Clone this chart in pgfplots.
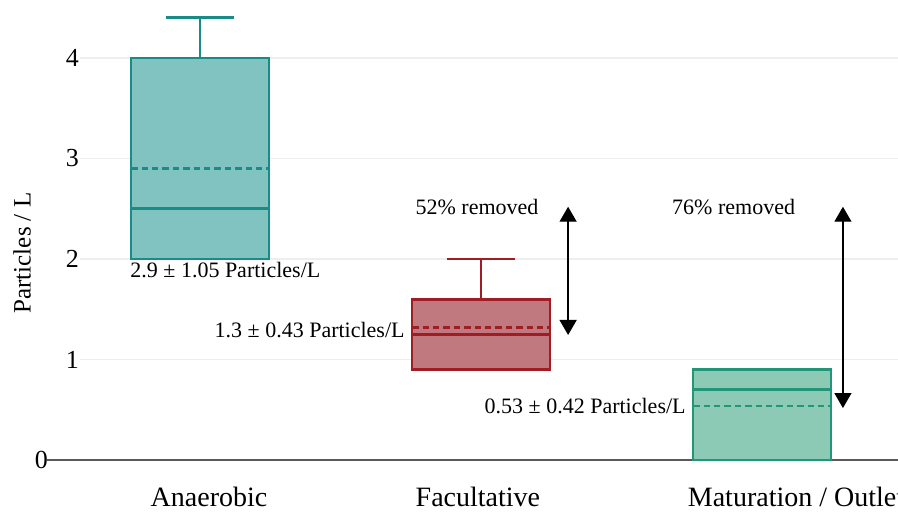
\documentclass[border=0pt]{standalone}
\usepackage{pgfplots}
\pgfplotsset{compat=1.18}
\usepgfplotslibrary{statistics}
\usetikzlibrary{arrows.meta}
\usepackage{fontspec}
\setmainfont{Liberation Serif}
\definecolor{anafill}{HTML}{81C3C0}
\definecolor{anadraw}{HTML}{198C87}
\definecolor{facfill}{HTML}{C07A7F}
\definecolor{facdraw}{HTML}{A01E23}
\definecolor{matfill}{HTML}{8CCAB6}
\definecolor{matdraw}{HTML}{239678}
\definecolor{gridc}{HTML}{EEEEEE}
\begin{document}
\begin{tikzpicture}
\begin{axis}[
  scale only axis,
  width=425.5pt, height=230pt,
  xmin=-0.5445, xmax=2.484,
  ymin=0, ymax=4.577,
  clip=false,
  axis line style={draw=none},
  major tick length=0pt,
  tick style={draw=none},
  ytick={1,2,3,4},
  yticklabel style={font=\fontsize{13}{15}\selectfont, xshift=19.5pt},
  extra y ticks={0},
  extra y tick style={yticklabel style={xshift=-15.5pt}, tick style={draw=none}},
  /pgf/number format/assume math mode=true,
  xtick={0.032,0.989,2.121},
  xticklabels={Anaerobic,Facultative,Maturation / Outlet},
  xticklabel style={font=\fontsize{14}{16}\selectfont, yshift=-10pt},
  boxplot/draw direction=y,
  boxplot/box extend=0.49,
  boxplot/whisker extend=0.24,
]
% grid lines
\foreach \yy in {1,2,3,4}{
  \edef\tmp{\noexpand\draw[gridc, line width=0.6pt] (axis cs:-0.427,\yy) -- (axis cs:2.484,\yy);}
  \tmp
}
% zero axis line
\draw[black!65, line width=0.9pt] (axis cs:-0.5445,0) -- (axis cs:2.484,0);

\addplot[draw=anadraw, fill=anafill, line width=1.3pt,
  boxplot prepared={draw position=0, lower whisker=2, lower quartile=2,
  median=2.5, upper quartile=4, upper whisker=4.4}] coordinates {};
\addplot[draw=facdraw, fill=facfill, line width=1.3pt,
  boxplot prepared={draw position=1, lower whisker=0.9, lower quartile=0.9,
  median=1.25, upper quartile=1.6, upper whisker=2.0}] coordinates {};
\addplot[draw=matdraw, fill=matfill, line width=1.3pt,
  boxplot prepared={draw position=2, lower whisker=0, lower quartile=0,
  median=0.7, upper quartile=0.9, upper whisker=0.9}] coordinates {};

% means
\addplot[anadraw, line width=1.4pt, dash pattern=on 3.2pt off 2pt] coordinates {(-0.245,2.9) (0.245,2.9)};
\addplot[facdraw, line width=1.4pt, dash pattern=on 3.2pt off 2pt] coordinates {(0.755,1.32) (1.245,1.32)};
\addplot[matdraw, line width=1.4pt, dash pattern=on 3.2pt off 2pt] coordinates {(1.755,0.537) (2.245,0.537)};

% arrows
\addplot[black, line width=0.7pt, {Triangle[width=8.5pt,length=7.5pt]}-{Triangle[width=8.5pt,length=7.5pt]}] coordinates {(1.31,2.52) (1.31,1.244)};
\addplot[black, line width=0.7pt, {Triangle[width=8.5pt,length=7.5pt]}-{Triangle[width=8.5pt,length=7.5pt]}] coordinates {(2.288,2.52) (2.288,0.517)};

% annotations
\node[font=\fontsize{11}{13}\selectfont, inner sep=0pt, anchor=west] at (axis cs:-0.249,1.89) {2.9 ± 1.05 Particles/L};
\node[font=\fontsize{11}{13}\selectfont, inner sep=0pt, anchor=east] at (axis cs:0.7295,1.294) {1.3 ± 0.43 Particles/L};
\node[font=\fontsize{11}{13}\selectfont, inner sep=0pt, anchor=east] at (axis cs:1.7295,0.537) {0.53 ± 0.42 Particles/L};
\node[font=\fontsize{11}{13}\selectfont, inner sep=0pt] at (axis cs:0.986,2.52) {52\% removed};
\node[font=\fontsize{11}{13}\selectfont, inner sep=0pt] at (axis cs:1.899,2.52) {76\% removed};
\node[font=\fontsize{12.5}{14}\selectfont, inner sep=0pt, rotate=90] at (axis cs:-0.633,2.06) {Particles / L};

\coordinate (bl) at (axis cs:-0.7117,-0.5075);
\coordinate (tr) at (axis cs:2.484,4.577);
\end{axis}
\pgfresetboundingbox
\useasboundingbox (bl) rectangle (tr);
\end{tikzpicture}
\end{document}
